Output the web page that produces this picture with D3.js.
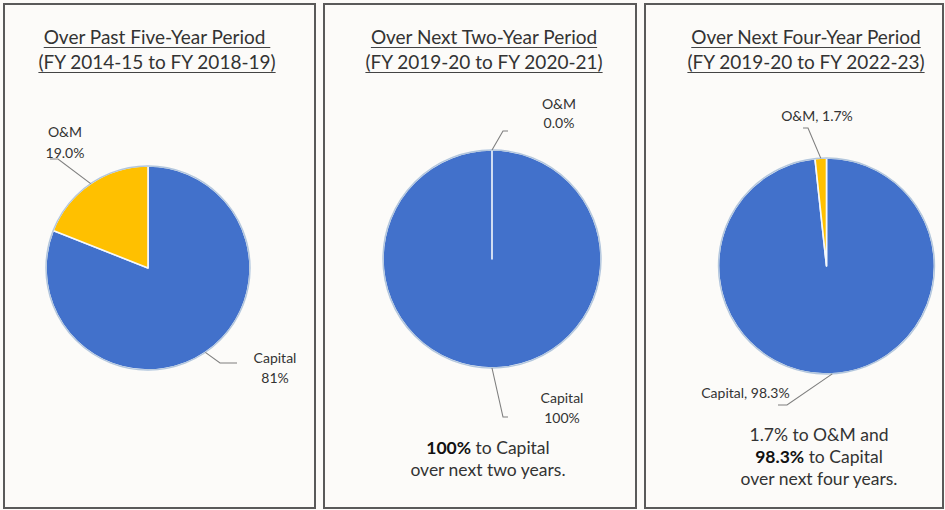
<!DOCTYPE html>
<html>
<head>
<meta charset="utf-8">
<script src="https://cdn.jsdelivr.net/npm/d3@7"></script>
<style>
  html, body { margin: 0; padding: 0; background: #fcfbf9; }
  svg { display: block; }
  text { font-family: Lato, "Open Sans", sans-serif; fill: #333; }
</style>
</head>
<body>
<svg id="chart" width="945" height="510"></svg>
<script>
// Spending split between capital and O&M for three periods
const categories = ["Capital", "O&M"];
const pastFiveYear = [81.0, 19.0];
const nextTwoYear = [100.0, 0.0];
const nextFourYear = [98.3, 1.7];
const periodTitles = ["Over Past Five-Year Period ", "Over Next Two-Year Period", "Over Next Four-Year Period"];
const periodRanges = ["(FY 2014-15 to FY 2018-19)", "(FY 2019-20 to FY 2020-21)", "(FY 2019-20 to FY 2022-23)"];
const sliceColors = ["#4271CB", "#FFC000"];

const color = d3.scaleOrdinal().domain(categories).range(sliceColors);
const svg = d3.select("#chart");

const f0 = d3.format(".0f"), f1 = d3.format(".1f");

const panels = [
  {
    values: pastFiveYear, box: [4, 4, 315, 508], titleX: 157,
    cx: 148, cy: 268, r: 102,
    labels: [
      { lines: v => ["Capital", f0(v) + "%"], x: 275, y: [363, 383], anchor: "middle", elbow: [220, 363], end: [237, 363] },
      { lines: v => ["O&M", f1(v) + "%"], x: 65, y: [137, 158], anchor: "middle", elbow: [58, 159], end: [50, 159] }
    ],
    note: null
  },
  {
    values: nextTwoYear, box: [324, 4, 636, 508], titleX: 484,
    cx: 492, cy: 259, r: 109,
    labels: [
      { lines: v => ["Capital", f0(v) + "%"], x: 562, y: [403, 423], anchor: "middle", elbow: [503, 417], end: [508, 417] },
      { lines: v => ["O&M", f1(v) + "%"], x: 559, y: [109, 128], anchor: "middle", elbow: [503, 131], end: [508, 131] }
    ],
    note: { x: 488, y: [454, 476], lines: v => [
      [{ t: f0(v[0]) + "%", b: true }, { t: " to Capital" }],
      [{ t: "over next two years." }]
    ] }
  },
  {
    values: nextFourYear, box: [645, 4, 943, 508], titleX: 806,
    cx: 826.5, cy: 266, r: 108,
    labels: [
      { lines: v => ["Capital, " + f1(v) + "%"], x: 745.5, y: [398], anchor: "middle", elbow: [787, 405], end: [778, 405] },
      { lines: v => ["O&M, " + f1(v) + "%"], x: 817, y: [121], anchor: "middle", elbow: [808, 128], end: [803, 128] }
    ],
    note: { x: 819, y: [441, 463, 485], lines: v => [
      [{ t: f1(v[1]) + "% to O&M and" }],
      [{ t: f1(v[0]) + "%", b: true }, { t: " to Capital" }],
      [{ t: "over next four years." }]
    ] }
  }
];

const pie = d3.pie().sort(null).value(d => d.value);

panels.forEach((p, i) => {
  const g = svg.append("g");
  const [x0, y0, x1, y1] = p.box;

  // panel frame
  g.append("rect")
    .attr("x", x0).attr("y", y0)
    .attr("width", x1 - x0).attr("height", y1 - y0)
    .attr("fill", "#fcfbf9")
    .attr("stroke", "#5a5a5a").attr("stroke-width", 2);

  // underlined two-line title
  [[periodTitles[i], 44, 47.5], [periodRanges[i], 69, 72.5]].forEach(([txt, by, uy]) => {
    const t = g.append("text")
      .attr("x", p.titleX).attr("y", by)
      .attr("text-anchor", "middle")
      .style("font-size", "19px")
      .style("white-space", "pre")
      .text(txt);
    const w = t.node().getComputedTextLength();
    g.append("line")
      .attr("x1", p.titleX - w / 2).attr("x2", p.titleX + w / 2)
      .attr("y1", uy).attr("y2", uy)
      .attr("stroke", "#444").attr("stroke-width", 1.2);
  });

  // pie slices
  const data = categories.map((c, k) => ({ cat: c, value: p.values[k] }));
  const arcs = pie(data);
  const arc = d3.arc().innerRadius(0).outerRadius(p.r);
  const pg = g.append("g").attr("transform", `translate(${p.cx},${p.cy})`);

  pg.selectAll("path.slice")
    .data(arcs)
    .join("path")
    .attr("class", "slice")
    .attr("d", arc)
    .attr("fill", d => color(d.data.cat))
    .attr("stroke", "#f4f8fc")
    .attr("stroke-width", 1.6)
    .attr("stroke-linejoin", "round");

  pg.append("circle")
    .attr("r", p.r)
    .attr("fill", "none")
    .attr("stroke", "#b3c6dc")
    .attr("stroke-width", 1.4);

  // leader lines and data labels
  arcs.forEach((a, k) => {
    const lab = p.labels[k];
    const mid = (a.startAngle + a.endAngle) / 2;
    const ex = p.cx + p.r * Math.sin(mid), ey = p.cy - p.r * Math.cos(mid);
    g.append("polyline")
      .attr("points", [[ex, ey], lab.elbow, lab.end].map(q => q.join(",")).join(" "))
      .attr("fill", "none")
      .attr("stroke", "#7f7f7f")
      .attr("stroke-width", 1.1);
    lab.lines(a.data.value).forEach((ln, j) => {
      g.append("text")
        .attr("x", lab.x).attr("y", lab.y[j])
        .attr("text-anchor", lab.anchor)
        .style("font-size", "14px")
        .text(ln);
    });
  });

  // summary note beneath the pie
  if (p.note) {
    p.note.lines(p.values).forEach((parts, j) => {
      const t = g.append("text")
        .attr("x", p.note.x).attr("y", p.note.y[j])
        .attr("text-anchor", "middle")
        .style("font-size", "17.5px")
        .style("white-space", "pre");
      parts.forEach(part => {
        t.append("tspan")
          .style("font-weight", part.b ? "700" : "400")
          .style("fill", part.b ? "#111" : "#333")
          .text(part.t);
      });
    });
  }
});
</script>
</body>
</html>
